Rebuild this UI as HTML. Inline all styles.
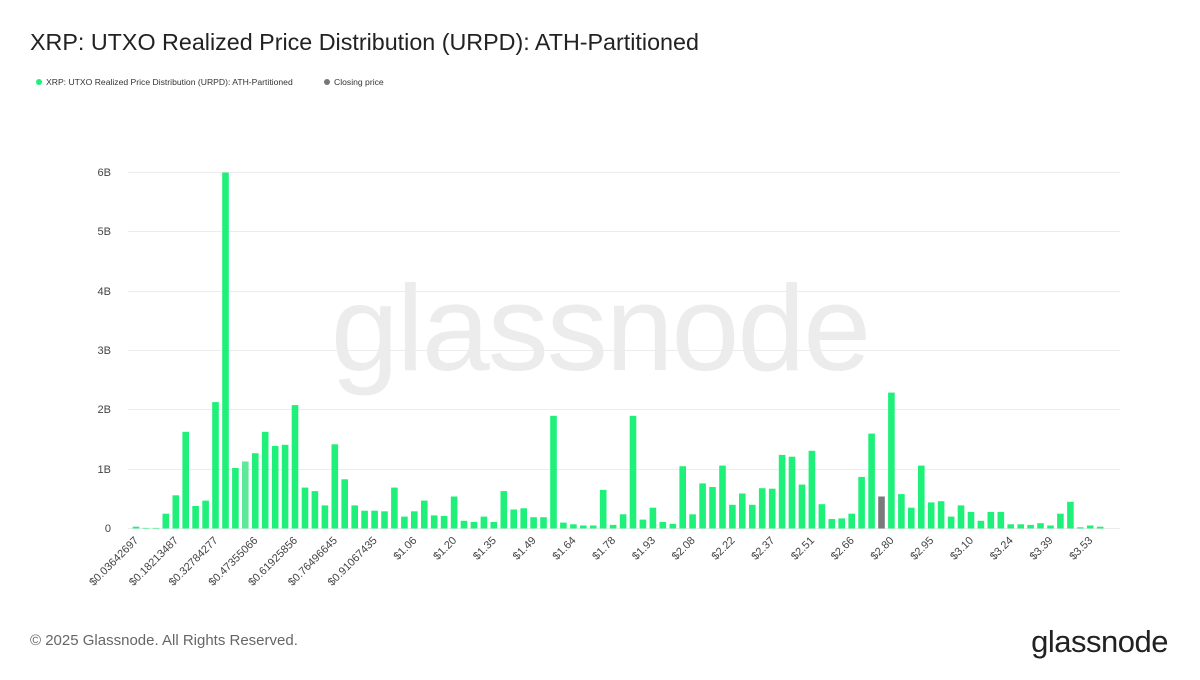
<!DOCTYPE html>
<html><head><meta charset="utf-8"><style>
body{margin:0;background:#fff;font-family:"Liberation Sans",sans-serif;}
</style></head><body>
<svg width="1200" height="675" xmlns="http://www.w3.org/2000/svg" font-family="Liberation Sans, sans-serif">
<rect width="1200" height="675" fill="#fff"/>
<text x="30" y="50" font-size="23.3" fill="#222">XRP: UTXO Realized Price Distribution (URPD): ATH-Partitioned</text>
<circle cx="39" cy="82" r="3" fill="#1ef07a"/>
<text x="46" y="85" font-size="8.6" fill="#333">XRP: UTXO Realized Price Distribution (URPD): ATH-Partitioned</text>
<circle cx="327" cy="82" r="3" fill="#777"/>
<text x="334" y="85" font-size="8.6" fill="#333">Closing price</text>
<text x="600" y="370" font-size="122" fill="#ececec" text-anchor="middle" letter-spacing="-2">glassnode</text>
<g stroke="#ececec" stroke-width="1">
<line x1="128" x2="1120" y1="172.5" y2="172.5"/><line x1="128" x2="1120" y1="231.5" y2="231.5"/>
<line x1="128" x2="1120" y1="291.5" y2="291.5"/><line x1="128" x2="1120" y1="350.5" y2="350.5"/>
<line x1="128" x2="1120" y1="409.5" y2="409.5"/><line x1="128" x2="1120" y1="469.5" y2="469.5"/>
<line x1="128" x2="1120" y1="528.5" y2="528.5"/>
</g>
<g font-size="11" fill="#444" text-anchor="end">
<text x="111" y="176">6B</text><text x="111" y="235">5B</text><text x="111" y="295">4B</text>
<text x="111" y="354">3B</text><text x="111" y="413">2B</text><text x="111" y="473">1B</text><text x="111" y="532">0</text>
</g>
<g transform="translate(0,528.5) scale(1,-1)" fill="#1ef07a">
<rect x="132.7" y="0" width="6.6" height="1.8"/>
<rect x="142.6" y="0" width="6.6" height="0.6"/>
<rect x="152.6" y="0" width="6.6" height="0.6"/>
<rect x="162.5" y="0" width="6.6" height="14.8"/>
<rect x="172.5" y="0" width="6.6" height="33.2"/>
<rect x="182.4" y="0" width="6.6" height="96.7"/>
<rect x="192.3" y="0" width="6.6" height="22.5"/>
<rect x="202.3" y="0" width="6.6" height="27.9"/>
<rect x="212.2" y="0" width="6.6" height="126.4"/>
<rect x="222.2" y="0" width="6.6" height="356"/>
<rect x="232.1" y="0" width="6.6" height="60.5"/>
<rect x="242.0" y="0" width="6.6" height="67.0" fill="#5fe89a"/>
<rect x="252.0" y="0" width="6.6" height="75.3"/>
<rect x="261.9" y="0" width="6.6" height="96.7"/>
<rect x="271.9" y="0" width="6.6" height="82.5"/>
<rect x="281.8" y="0" width="6.6" height="83.7"/>
<rect x="291.7" y="0" width="6.6" height="123.4"/>
<rect x="301.7" y="0" width="6.6" height="40.9"/>
<rect x="311.6" y="0" width="6.6" height="37.4"/>
<rect x="321.6" y="0" width="6.6" height="23.1"/>
<rect x="331.5" y="0" width="6.6" height="84.2"/>
<rect x="341.4" y="0" width="6.6" height="49.2"/>
<rect x="351.4" y="0" width="6.6" height="23.1"/>
<rect x="361.3" y="0" width="6.6" height="17.8"/>
<rect x="371.3" y="0" width="6.6" height="17.8"/>
<rect x="381.2" y="0" width="6.6" height="17.2"/>
<rect x="391.1" y="0" width="6.6" height="40.9"/>
<rect x="401.1" y="0" width="6.6" height="11.9"/>
<rect x="411.0" y="0" width="6.6" height="17.2"/>
<rect x="421.0" y="0" width="6.6" height="27.9"/>
<rect x="430.9" y="0" width="6.6" height="13.1"/>
<rect x="440.8" y="0" width="6.6" height="12.5"/>
<rect x="450.8" y="0" width="6.6" height="32.0"/>
<rect x="460.7" y="0" width="6.6" height="7.7"/>
<rect x="470.7" y="0" width="6.6" height="6.5"/>
<rect x="480.6" y="0" width="6.6" height="11.9"/>
<rect x="490.5" y="0" width="6.6" height="6.5"/>
<rect x="500.5" y="0" width="6.6" height="37.4"/>
<rect x="510.4" y="0" width="6.6" height="19.0"/>
<rect x="520.4" y="0" width="6.6" height="20.2"/>
<rect x="530.3" y="0" width="6.6" height="11.3"/>
<rect x="540.2" y="0" width="6.6" height="11.3"/>
<rect x="550.2" y="0" width="6.6" height="112.7"/>
<rect x="560.1" y="0" width="6.6" height="5.9"/>
<rect x="570.1" y="0" width="6.6" height="4.2"/>
<rect x="580.0" y="0" width="6.6" height="3.0"/>
<rect x="589.9" y="0" width="6.6" height="3.0"/>
<rect x="599.9" y="0" width="6.6" height="38.6"/>
<rect x="609.8" y="0" width="6.6" height="3.6"/>
<rect x="619.8" y="0" width="6.6" height="14.2"/>
<rect x="629.7" y="0" width="6.6" height="112.7"/>
<rect x="639.6" y="0" width="6.6" height="8.9"/>
<rect x="649.6" y="0" width="6.6" height="20.8"/>
<rect x="659.5" y="0" width="6.6" height="6.5"/>
<rect x="669.5" y="0" width="6.6" height="4.7"/>
<rect x="679.4" y="0" width="6.6" height="62.3"/>
<rect x="689.3" y="0" width="6.6" height="14.2"/>
<rect x="699.3" y="0" width="6.6" height="45.1"/>
<rect x="709.2" y="0" width="6.6" height="41.5"/>
<rect x="719.2" y="0" width="6.6" height="62.9"/>
<rect x="729.1" y="0" width="6.6" height="23.7"/>
<rect x="739.0" y="0" width="6.6" height="35.0"/>
<rect x="749.0" y="0" width="6.6" height="23.7"/>
<rect x="758.9" y="0" width="6.6" height="40.3"/>
<rect x="768.9" y="0" width="6.6" height="39.8"/>
<rect x="778.8" y="0" width="6.6" height="73.6"/>
<rect x="788.7" y="0" width="6.6" height="71.8"/>
<rect x="798.7" y="0" width="6.6" height="43.9"/>
<rect x="808.6" y="0" width="6.6" height="77.7"/>
<rect x="818.6" y="0" width="6.6" height="24.3"/>
<rect x="828.5" y="0" width="6.6" height="9.5"/>
<rect x="838.4" y="0" width="6.6" height="10.1"/>
<rect x="848.4" y="0" width="6.6" height="14.8"/>
<rect x="858.3" y="0" width="6.6" height="51.6"/>
<rect x="868.3" y="0" width="6.6" height="94.9"/>
<rect x="878.2" y="0" width="6.6" height="32.0" fill="#7a7a7a"/>
<rect x="888.1" y="0" width="6.6" height="135.9"/>
<rect x="898.1" y="0" width="6.6" height="34.4"/>
<rect x="908.0" y="0" width="6.6" height="20.8"/>
<rect x="918.0" y="0" width="6.6" height="62.9"/>
<rect x="927.9" y="0" width="6.6" height="26.1"/>
<rect x="937.8" y="0" width="6.6" height="27.3"/>
<rect x="947.8" y="0" width="6.6" height="11.9"/>
<rect x="957.7" y="0" width="6.6" height="23.1"/>
<rect x="967.7" y="0" width="6.6" height="16.6"/>
<rect x="977.6" y="0" width="6.6" height="7.7"/>
<rect x="987.5" y="0" width="6.6" height="16.6"/>
<rect x="997.5" y="0" width="6.6" height="16.6"/>
<rect x="1007.4" y="0" width="6.6" height="4.2"/>
<rect x="1017.4" y="0" width="6.6" height="4.2"/>
<rect x="1027.3" y="0" width="6.6" height="3.6"/>
<rect x="1037.2" y="0" width="6.6" height="5.3"/>
<rect x="1047.2" y="0" width="6.6" height="3.0"/>
<rect x="1057.1" y="0" width="6.6" height="14.8"/>
<rect x="1067.1" y="0" width="6.6" height="26.7"/>
<rect x="1077.0" y="0" width="6.6" height="1.2"/>
<rect x="1086.9" y="0" width="6.6" height="3.0"/>
<rect x="1096.9" y="0" width="6.6" height="1.8"/>
</g>
<g font-size="11" fill="#444" text-anchor="end">
<text transform="translate(139,541) rotate(-45)">$0.03642697</text>
<text transform="translate(178.8,541) rotate(-45)">$0.18213487</text>
<text transform="translate(218.5,541) rotate(-45)">$0.32784277</text>
<text transform="translate(258.3,541) rotate(-45)">$0.47355066</text>
<text transform="translate(298,541) rotate(-45)">$0.61925856</text>
<text transform="translate(337.8,541) rotate(-45)">$0.76496645</text>
<text transform="translate(377.6,541) rotate(-45)">$0.91067435</text>
<text transform="translate(417.3,541) rotate(-45)">$1.06</text>
<text transform="translate(457.1,541) rotate(-45)">$1.20</text>
<text transform="translate(496.8,541) rotate(-45)">$1.35</text>
<text transform="translate(536.6,541) rotate(-45)">$1.49</text>
<text transform="translate(576.4,541) rotate(-45)">$1.64</text>
<text transform="translate(616.1,541) rotate(-45)">$1.78</text>
<text transform="translate(655.9,541) rotate(-45)">$1.93</text>
<text transform="translate(695.6,541) rotate(-45)">$2.08</text>
<text transform="translate(735.4,541) rotate(-45)">$2.22</text>
<text transform="translate(775.2,541) rotate(-45)">$2.37</text>
<text transform="translate(814.9,541) rotate(-45)">$2.51</text>
<text transform="translate(854.7,541) rotate(-45)">$2.66</text>
<text transform="translate(894.4,541) rotate(-45)">$2.80</text>
<text transform="translate(934.2,541) rotate(-45)">$2.95</text>
<text transform="translate(974,541) rotate(-45)">$3.10</text>
<text transform="translate(1013.7,541) rotate(-45)">$3.24</text>
<text transform="translate(1053.5,541) rotate(-45)">$3.39</text>
<text transform="translate(1093.2,541) rotate(-45)">$3.53</text>
</g>
<text x="30" y="645" font-size="15" fill="#666">© 2025 Glassnode. All Rights Reserved.</text>
<text x="1168" y="652" font-size="31" fill="#222" text-anchor="end" letter-spacing="-0.5">glassnode</text>
</svg>
</body></html>
